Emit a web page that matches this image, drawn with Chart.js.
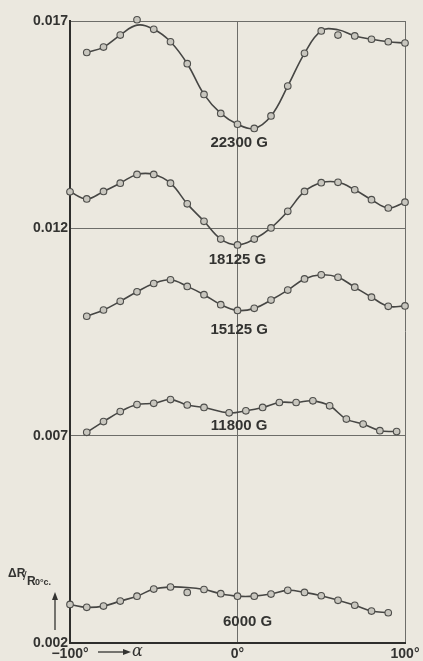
<!DOCTYPE html>
<html>
<head>
<meta charset="utf-8">
<script src="https://cdn.jsdelivr.net/npm/chart.js@4.4.1/dist/chart.umd.min.js"></script>
<style>
  html, body { margin: 0; padding: 0; background: #ebe8df; }
  #wrap { width: 423px; height: 661px; position: relative; }
</style>
</head>
<body>
<div id="wrap"><canvas id="c"></canvas></div>
<script>
// ---- data ----
const yTickValues = [0.002, 0.007, 0.012, 0.017];
const yTickLabels = ['0.002', '0.007', '0.012', '0.017'];
const xTickValues = [-100, 0, 100];
const xTickLabels = ['\u2212100\u00b0', '0\u00b0', '100\u00b0'];

const angles22300 = [-90,-80,-70,-60,-50,-40,-30,-20,-10,0,10,20,30,40,50,60,70,80,90,100];
const points22300 = [0.01624,0.01637,0.01666,0.01703,0.01680,0.01650,0.01597,0.01523,0.01477,0.01451,0.01441,0.01471,0.01543,0.01622,0.01676,0.01666,0.01664,0.01656,0.01650,0.01647];
const curve22300  = [0.01624,0.01637,0.01666,0.01690,0.01680,0.01650,0.01597,0.01523,0.01477,0.01451,0.01441,0.01471,0.01543,0.01622,0.01676,0.01679,0.01664,0.01656,0.01650,0.01647];

const angles18125 = [-100,-90,-80,-70,-60,-50,-40,-30,-20,-10,0,10,20,30,40,50,60,70,80,90,100];
const points18125 = [0.01288,0.01271,0.01289,0.01309,0.01330,0.01330,0.01309,0.01259,0.01217,0.01174,0.01160,0.01174,0.01201,0.01241,0.01289,0.01310,0.01311,0.01293,0.01269,0.01249,0.01263];

const angles15125 = [-90,-80,-70,-60,-50,-40,-30,-20,-10,0,10,20,30,40,50,60,70,80,90,100];
const points15125 = [0.00988,0.01003,0.01024,0.01047,0.01067,0.01076,0.01060,0.01040,0.01016,0.01002,0.01007,0.01027,0.01051,0.01078,0.01088,0.01082,0.01058,0.01034,0.01012,0.01013];

const angles11800 = [-90,-80,-70,-60,-50,-40,-30,-20,-5,5,15,25,35,45,55,65,75,85,95];
const points11800 = [0.00708,0.00734,0.00758,0.00775,0.00778,0.00787,0.00774,0.00768,0.00755,0.00760,0.00768,0.00780,0.00780,0.00784,0.00772,0.00740,0.00728,0.00712,0.00710];

const angles6000 = [-100,-90,-80,-70,-60,-50,-40,-30,-20,-10,0,10,20,30,40,50,60,70,80,90];
const points6000 = [0.00293,0.00286,0.00289,0.00301,0.00313,0.00330,0.00335,0.00322,0.00329,0.00319,0.00313,0.00313,0.00318,0.00327,0.00322,0.00314,0.00303,0.00291,0.00277,0.00273];
const curve6000  = [0.00293,0.00286,0.00289,0.00301,0.00313,0.00330,0.00335,0.00334,0.00329,0.00319,0.00313,0.00313,0.00318,0.00327,0.00322,0.00314,0.00303,0.00291,0.00277,0.00273];

const seriesNames = ['22300 G', '18125 G', '15125 G', '11800 G', '6000 G'];

// ---- styling / layout ----
const LINE = '#464644';
const INK = '#333331';
const series = [
  { name: seriesNames[0], angles: angles22300, points: points22300, curve: curve22300 },
  { name: seriesNames[1], angles: angles18125, points: points18125, curve: points18125 },
  { name: seriesNames[2], angles: angles15125, points: points15125, curve: points15125 },
  { name: seriesNames[3], angles: angles11800, points: points11800, curve: points11800 },
  { name: seriesNames[4], angles: angles6000,  points: points6000,  curve: curve6000 }
];
const labelAnchors = [
  { x: 1, y: 0.01405 },
  { x: 0, y: 0.011245 },
  { x: 1, y: 0.00954 },
  { x: 1, y: 0.007232 },
  { x: 6, y: 0.002504 }
];

const pair = (xs, ys) => xs.map((x, i) => ({ x: x, y: ys[i] }));
const datasets = [];
series.forEach(s => {
  datasets.push({
    label: s.name + ' curve', data: pair(s.angles, s.curve), showLine: true,
    borderColor: LINE, borderWidth: 1.6, tension: 0.4, pointRadius: 0, clip: false, order: 2
  });
  datasets.push({
    label: s.name, data: pair(s.angles, s.points), showLine: false,
    pointRadius: 3.3, pointBackgroundColor: '#c8c6be', pointBorderColor: '#4e4e4b',
    pointBorderWidth: 1.1, clip: false, order: 1
  });
});

const annot = {
  id: 'annot',
  afterDatasetsDraw(chart) {
    const ctx = chart.ctx, xs = chart.scales.x, ys = chart.scales.y;
    ctx.save();
    ctx.fillStyle = INK;
    ctx.strokeStyle = INK;
    ctx.textAlign = 'center';
    ctx.textBaseline = 'middle';
    ctx.font = 'bold 15px "Liberation Sans", Arial, sans-serif';
    labelAnchors.forEach((a, i) => {
      ctx.fillText(seriesNames[i], xs.getPixelForValue(a.x), ys.getPixelForValue(a.y));
    });
    // y-axis quantity label
    const left = xs.left;
    ctx.textAlign = 'left';
    ctx.textBaseline = 'alphabetic';
    ctx.font = 'bold 12px "Liberation Sans", Arial, sans-serif';
    ctx.fillText('\u0394R', left - 62, 577);
    ctx.font = '13px "Liberation Sans", Arial, sans-serif';
    ctx.fillText('/', left - 47, 580);
    ctx.font = 'bold 12px "Liberation Sans", Arial, sans-serif';
    ctx.fillText('R', left - 43, 585);
    ctx.font = 'bold 9px "Liberation Sans", Arial, sans-serif';
    ctx.fillText('0\u00b0c.', left - 35, 585);
    // vertical arrow
    ctx.lineWidth = 1.3;
    ctx.beginPath();
    ctx.moveTo(left - 15, 630); ctx.lineTo(left - 15, 596); ctx.stroke();
    ctx.beginPath();
    ctx.moveTo(left - 15, 592); ctx.lineTo(left - 18, 600); ctx.lineTo(left - 12, 600); ctx.closePath(); ctx.fill();
    // horizontal arrow with alpha
    const by = 652;
    ctx.beginPath();
    ctx.moveTo(left + 28, by); ctx.lineTo(left + 56, by); ctx.stroke();
    ctx.beginPath();
    ctx.moveTo(left + 61, by); ctx.lineTo(left + 53, by - 3); ctx.lineTo(left + 53, by + 3); ctx.closePath(); ctx.fill();
    ctx.font = 'italic 16px "DejaVu Serif", serif';
    ctx.textBaseline = 'middle';
    ctx.fillText('\u03b1', left + 62, by);
    ctx.restore();
  }
};

new Chart(document.getElementById('c'), {
  type: 'scatter',
  data: { datasets: datasets },
  options: {
    responsive: true,
    maintainAspectRatio: false,
    animation: false,
    events: [],
    layout: { padding: { left: 0, right: 18, top: 21, bottom: 0 } },
    plugins: { legend: { display: false }, tooltip: { enabled: false } },
    scales: {
      x: {
        type: 'linear', min: -100, max: 100,
        afterFit(scale) { scale.height = 18; },
        afterBuildTicks(scale) { scale.ticks = xTickValues.map(v => ({ value: v })); },
        ticks: {
          padding: 3, color: INK, maxRotation: 0, autoSkip: false,
          font: { family: '"Liberation Sans", Arial, sans-serif', size: 14, weight: 'bold' },
          callback: (v) => { const i = xTickValues.indexOf(v); return i >= 0 ? xTickLabels[i] : ''; }
        },
        grid: { color: '#6d6d69', lineWidth: 1, drawTicks: false },
        border: { display: true, color: '#2e2e2c', width: 2 }
      },
      y: {
        type: 'linear', min: 0.002, max: 0.017,
        afterFit(scale) { scale.width = 70; },
        afterBuildTicks(scale) { scale.ticks = yTickValues.map(v => ({ value: v })); },
        ticks: {
          padding: 2, color: INK, autoSkip: false,
          font: { family: '"Liberation Sans", Arial, sans-serif', size: 14, weight: 'bold' },
          callback: (v) => { const i = yTickValues.findIndex(t => Math.abs(t - v) < 1e-9); return i >= 0 ? yTickLabels[i] : ''; }
        },
        grid: { color: '#6d6d69', lineWidth: 1, drawTicks: false },
        border: { display: true, color: '#2e2e2c', width: 2 }
      }
    }
  },
  plugins: [annot]
});
</script>
</body>
</html>
